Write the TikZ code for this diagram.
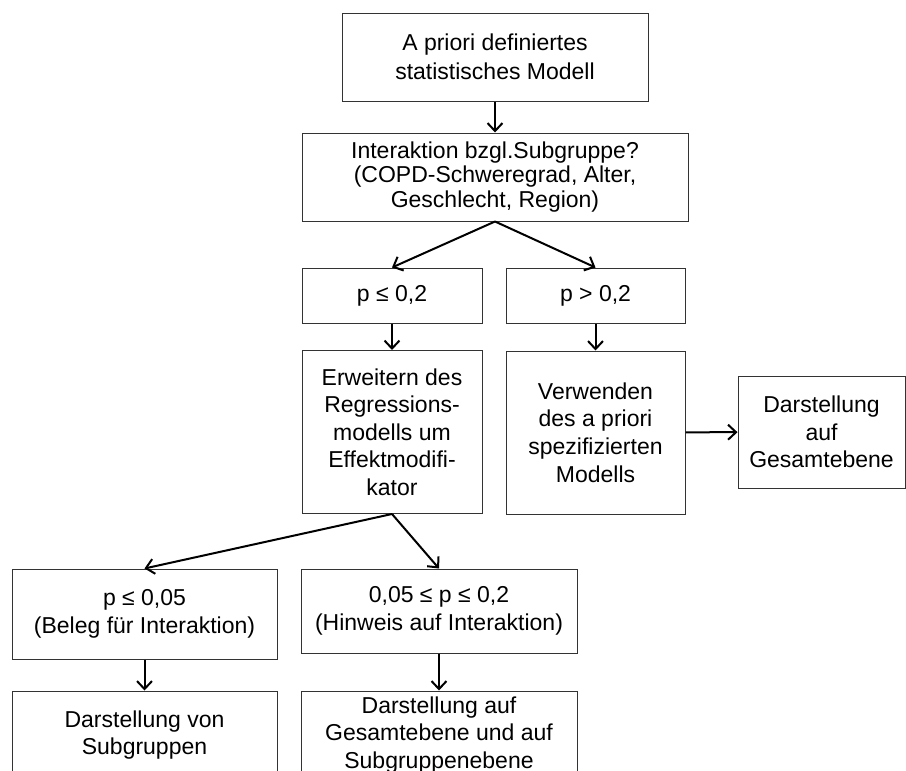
\documentclass[tikz,border=0pt]{standalone}
\usepackage{fontspec}
\setmainfont{Liberation Sans}
\usetikzlibrary{arrows.meta}
\begin{document}
\begin{tikzpicture}[x=1pt,y=-1pt,
  box/.style={draw=black!80, line width=1pt, align=center, inner sep=0pt,
    font=\fontsize{23}{27.6}\selectfont},
  arr/.style={line width=2pt, -{Straight Barb[length=8pt,width=15pt,line width=2pt]}}]
\useasboundingbox (0,0) rectangle (906,771);
\clip (0,0) rectangle (906,771);
\node[box, minimum width=306, minimum height=88, font=\fontsize{23}{29}\selectfont] (b1) at (495,57) {A priori definiertes\\statistisches Modell};
\node[box, minimum width=386, minimum height=88, font=\fontsize{23}{24.5}\selectfont] (b2) at (495,177) {Interaktion bzgl.Subgruppe?\\(COPD-Schweregrad, Alter,\\Geschlecht, Region)};
\node[box, minimum width=180, minimum height=55] (p1) at (392,295.5) {p ≤ 0,2};
\node[box, minimum width=179, minimum height=55] (p2) at (595.5,295.5) {p > 0,2};
\node[box, minimum width=180, minimum height=163] (e) at (392,432) {Erweitern des\\Regressions-\\modells um\\Effektmodifi-\\kator};
\node[box, minimum width=179, minimum height=163] (v) at (595.5,432.5) {Verwenden\\des a priori\\spezifizierten\\Modells};
\node[box, minimum width=167, minimum height=112] (d) at (821.5,432) {Darstellung\\auf\\Gesamtebene};
\node[box, minimum width=265, minimum height=90] (q1) at (144.5,614) {p ≤ 0,05\\(Beleg für Interaktion)};
\node[box, minimum width=276, minimum height=84] (q2) at (439,611) {0,05 ≤ p ≤ 0,2\\(Hinweis auf Interaktion)};
\node[box, minimum width=265, minimum height=88] (r1) at (144.5,735) {Darstellung von\\Subgruppen};
\node[box, minimum width=276, minimum height=88] (r2) at (439,735) {Darstellung auf\\Gesamtebene und auf\\Subgruppenebene};
\draw[arr] (b1) -- (b2);
\draw[arr] (b2.south) -- (p1.north);
\draw[arr] (b2.south) -- (p2.north);
\draw[arr] (p1) -- (e);
\draw[arr] (p2) -- (v);
\draw[arr] (v) -- (d);
\draw[arr] (e.south) -- (q1.north);
\draw[arr] (e.south) -- (q2.north);
\draw[arr] (q1) -- (r1);
\draw[arr] (q2) -- (r2);
\end{tikzpicture}
\end{document}
